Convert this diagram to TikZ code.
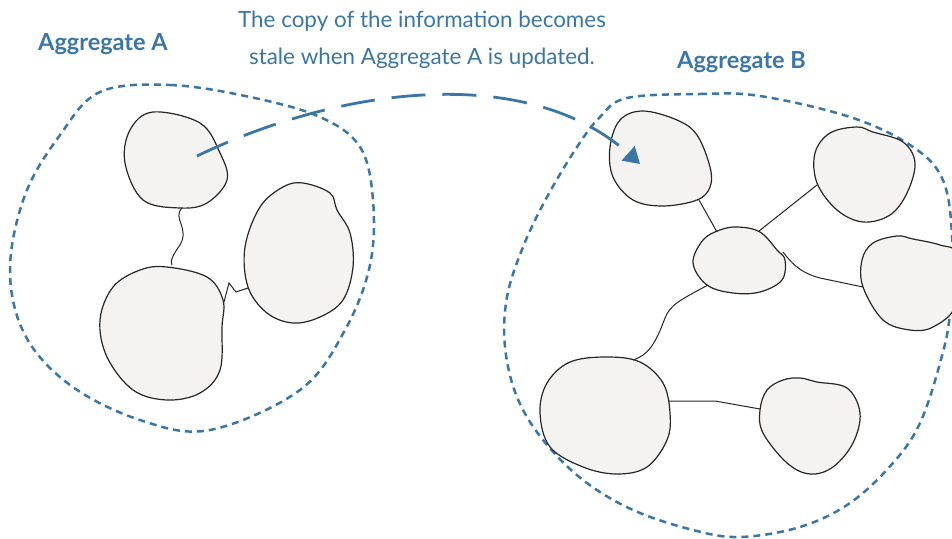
\documentclass[tikz,border=0pt]{standalone}
\usepackage{fontspec}
\setmainfont{Lato}
\usetikzlibrary{arrows.meta}
\definecolor{aggblue}{RGB}{58,118,168}
\definecolor{blobfill}{RGB}{244,243,242}

\begin{document}
\begin{tikzpicture}[x=1pt, y=-1pt, every node/.style={inner sep=0pt},
    blob/.style={draw=black!85, fill=blobfill, line width=1.2pt},
    link/.style={draw=black!85, line width=1pt},
    boundary/.style={draw=aggblue, line width=2.5pt, dash pattern=on 7pt off 5pt},
    aggtitle/.style={text=aggblue, font=\fontsize{23.5}{28}\selectfont\bfseries, anchor=base west},
    copyarrow/.style={draw=aggblue, line width=2.8pt, dash pattern=on 34pt off 17pt,
        -{Triangle[length=16pt, width=19pt, fill=aggblue]}}]
    \useasboundingbox (0,0) rectangle (952,538);

    % aggregate boundaries
    \draw[boundary] plot[smooth cycle, tension=0.6] coordinates {(100,92) (170,85) (250,97) (320,117) (360,147) (373,200) (370,265) (345,330) (300,390) (210,430) (140,420) (70,385) (25,335) (10,270) (25,195) (60,135)};
    \draw[boundary] plot[smooth cycle, tension=0.6] coordinates {(627,98) (700,94) (760,96) (850,117) (910,145) (942,178) (952,235) (950,313) (940,363) (920,423) (893,463) (850,503) (800,527) (740,537) (693,530) (633,510) (583,480) (543,440) (517,397) (505,347) (507,297) (523,247) (547,197) (577,147) (600,117)};

    % aggregate A
    \draw[blob] plot[smooth cycle, tension=0.6] coordinates {(153,112) (200,123) (220,153) (227,180) (207,203) (180,208) (143,200) (125,163) (130,130)};
    \draw[blob] plot[smooth cycle, tension=0.6] coordinates {(167,267) (207,277) (223,300) (222,327) (220,370) (200,393) (167,400) (133,390) (107,357) (100,320) (113,287) (140,270)};
    \draw[blob] plot[smooth cycle, tension=0.6] coordinates {(303,183) (330,193) (337,210) (350,233) (353,267) (343,300) (320,317) (293,323) (267,313) (248,287) (245,247) (260,207) (283,187)};

    \coordinate (a1s) at (182,208);
    \coordinate (a2n) at (172,265);
    \coordinate (a2e) at (224,302);
    \coordinate (a3w) at (248,288);
    \draw[link] (a1s) .. controls (172,218) and (190,228) .. (180,245) .. controls (172,256) and (170,262) .. (a2n);
    \draw[link] (a2e) -- (229,283) -- (236,292) -- (a3w);

    % aggregate B
    \draw[blob] plot[smooth cycle, tension=0.6] coordinates {(643,111) (677,120) (697,135) (710,167) (710,187) (697,200) (663,206) (633,200) (613,177) (610,147) (620,120)};
    \draw[blob] plot[smooth cycle, tension=0.6] coordinates {(738,227) (760,232) (777,250) (785,260) (782,280) (760,292) (733,293) (707,285) (693,263) (703,240) (720,230)};
    \draw[blob] plot[smooth cycle, tension=0.6] coordinates {(857,127) (873,132) (903,142) (915,163) (907,193) (890,215) (863,222) (837,210) (817,183) (815,153) (830,133)};
    \draw[blob] plot[smooth cycle, tension=0.6] coordinates {(897,236) (913,239) (940,245) (958,255) (956,305) (933,327) (910,330) (883,320) (863,287) (862,260) (873,243)};
    \draw[blob] plot[smooth cycle, tension=0.6] coordinates {(607,357) (640,362) (663,383) (670,413) (667,440) (647,467) (617,474) (583,467) (550,447) (540,413) (547,383) (570,362)};
    \draw[blob] plot[smooth cycle, tension=0.6] coordinates {(800,378) (817,382) (847,388) (860,413) (853,443) (833,467) (810,474) (787,463) (763,433) (760,410) (767,390) (783,380)};

    \coordinate (b1s) at (699,200);
    \coordinate (b0n) at (717,232);
    \coordinate (b0ne) at (759,231);
    \coordinate (b2w) at (817,185);
    \coordinate (b0e) at (783,252);
    \coordinate (b3w) at (863,287);
    \coordinate (b0sw) at (708,285);
    \coordinate (b4n) at (633,360);
    \coordinate (b4e) at (669,401);
    \coordinate (b5w) at (760,409);
    \draw[link] (b1s) -- (b0n);
    \draw[link] (b0ne) -- (b2w);
    \draw[link] (b0e) .. controls (795,268) and (805,274) .. (820,278) -- (b3w);
    \draw[link] (b0sw) .. controls (680,300) and (670,305) .. (665,318) .. controls (655,345) and (648,355) .. (b4n);
    \draw[link] (b4e) -- (715,401) -- (b5w);

    % stale copy
    \coordinate (src) at (197,156);
    \coordinate (dst) at (640,164);
    \draw[copyarrow] (src) .. controls (347,84) and (530,65) .. (dst);

    \node[aggtitle] (aggA) at (38,50) {Aggregate A};
    \node[aggtitle] (aggB) at (677,68) {Aggregate B};
    \node[text=aggblue, font=\fontsize{22.4}{33}\selectfont, align=center, anchor=north] (note) at (422,11)
        {The copy of the information becomes\\[4pt]stale when Aggregate A is updated.};
\end{tikzpicture}
\end{document}
